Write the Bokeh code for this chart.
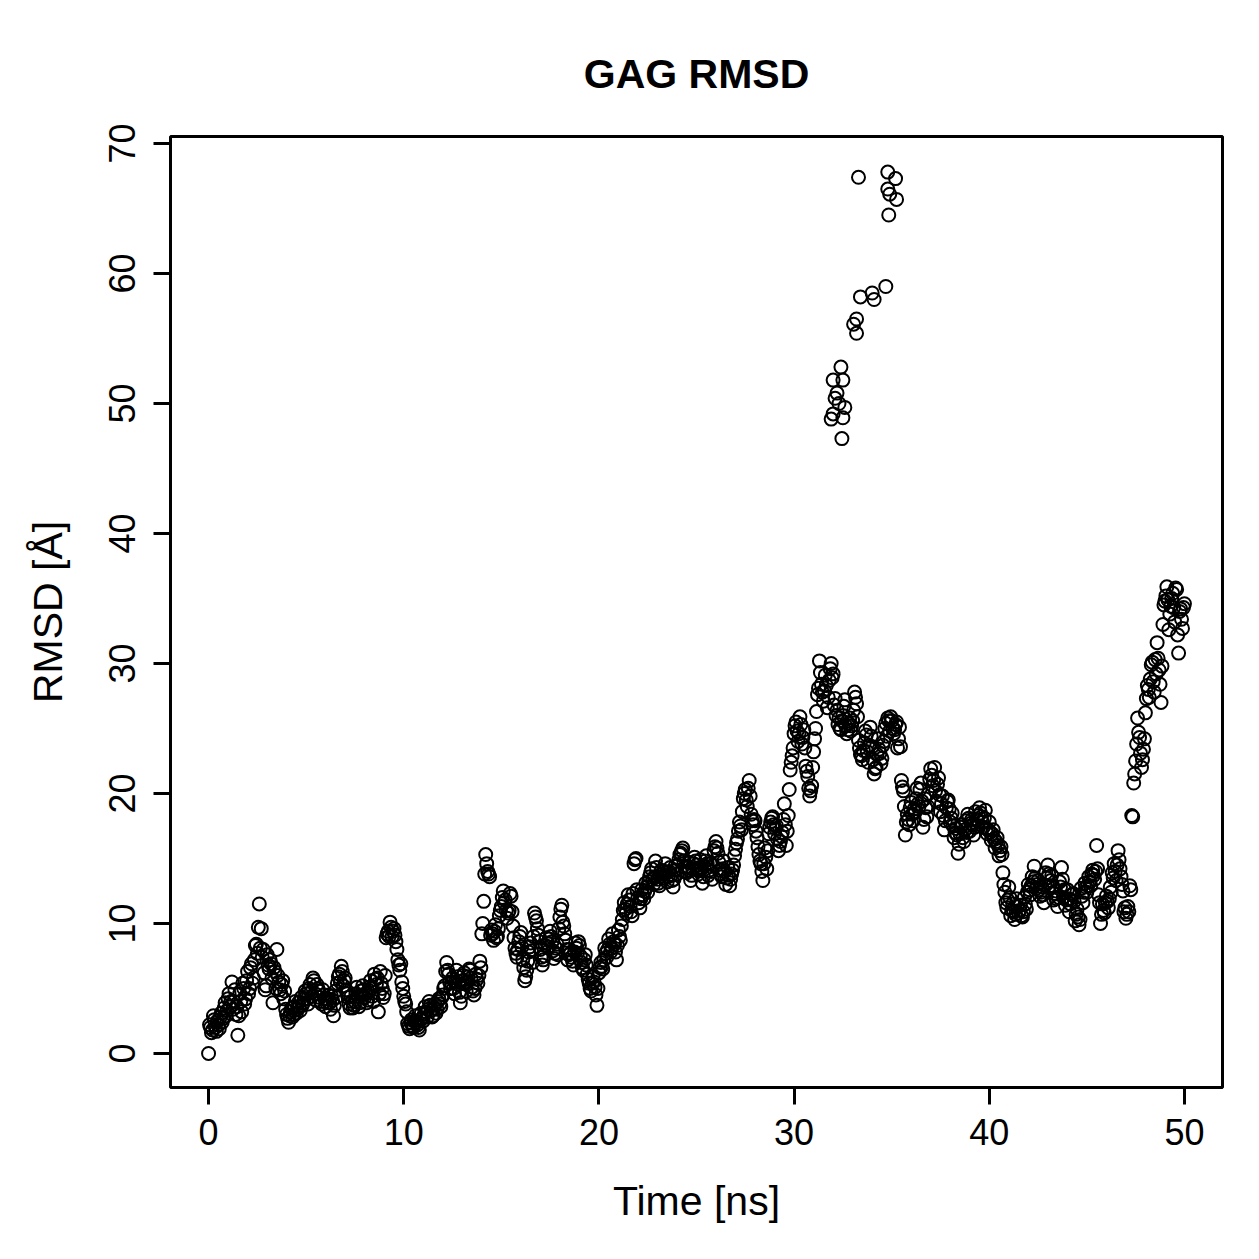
from bokeh.plotting import figure
from bokeh.models import Range1d, FixedTicker
from bokeh.embed import file_html
from bokeh.resources import INLINE

# RMSD trajectory, frames every 0.05 ns
# frames at whole tenths: 0.0, 0.1, ..., 50.0
time_ns = [i / 10 for i in range(501)]
rmsd = [
    # 0.0 - 4.9 ns
    0.0, 2.0, 1.8, 2.6, 1.7, 2.2, 2.8, 2.4, 3.5, 2.9,
    4.2, 3.6, 5.5, 4.0, 3.0, 1.4, 4.6, 3.2, 5.0, 4.2,
    6.3, 5.0, 6.9, 5.8, 8.3, 7.7, 11.5, 9.6, 8.0, 4.9,
    7.6, 6.5, 6.9, 3.9, 6.3, 8.0, 5.5, 4.6, 5.6, 4.8,
    3.0, 2.4, 3.2, 2.8, 3.6, 3.1, 3.9, 3.3, 3.7, 4.2,
    # 5.0 - 9.9 ns
    4.6, 3.8, 5.3, 4.4, 5.6, 4.1, 5.0, 4.3, 3.8, 4.5,
    3.6, 4.2, 3.9, 4.4, 2.9, 4.8, 5.4, 6.1, 6.7, 5.2,
    5.8, 4.6, 3.8, 4.4, 3.5, 4.0, 5.1, 3.6, 4.8, 5.2,
    4.3, 3.9, 4.7, 5.6, 4.4, 6.1, 5.3, 3.2, 6.3, 5.0,
    4.6, 8.9, 9.4, 10.1, 9.0, 9.6, 8.6, 7.2, 6.4, 5.5,
    # 10.0 - 14.9 ns
    4.4, 3.8, 2.3, 1.9, 2.6, 2.0, 2.9, 2.2, 1.8, 3.1,
    2.5, 3.6, 2.8, 4.0, 3.3, 2.9, 3.8, 3.4, 4.2, 3.6,
    4.5, 5.2, 7.0, 6.1, 5.0, 5.8, 4.6, 6.4, 5.3, 3.9,
    5.6, 6.2, 4.8, 5.9, 6.4, 5.1, 4.5, 6.1, 5.4, 7.1,
    9.2, 11.7, 15.3, 14.0, 13.6, 9.5, 8.7, 9.9, 9.0, 10.6,
    # 15.0 - 19.9 ns
    11.3, 12.5, 11.8, 10.4, 11.0, 12.1, 9.8, 8.1, 7.4, 8.6,
    9.3, 7.2, 5.6, 6.4, 7.8, 8.5, 7.0, 10.8, 10.2, 9.1,
    8.0, 6.8, 7.5, 8.9, 8.2, 9.4, 8.6, 7.3, 8.1, 7.6,
    10.5, 11.4, 9.8, 8.7, 7.2, 8.0, 7.4, 6.8, 8.5, 7.7,
    8.3, 7.0, 6.4, 7.6, 6.1, 5.4, 4.8, 5.9, 5.1, 3.7,
    # 20.0 - 24.9 ns
    6.2, 7.0, 6.5, 8.1, 7.4, 8.8, 7.8, 9.2, 8.4, 7.2,
    9.5, 8.7, 10.3, 11.6, 10.8, 12.2, 11.3, 10.6, 14.6, 15.0,
    12.0, 11.2, 12.6, 11.9, 13.1, 12.4, 13.6, 14.2, 13.0, 14.8,
    13.4, 12.9, 14.1, 13.5, 14.6, 13.2, 14.0, 13.7, 12.8, 14.4,
    13.8, 14.9, 15.4, 15.8, 14.3, 13.9, 14.7, 13.3, 14.2, 15.1,
    # 25.0 - 29.9 ns
    14.5, 13.8, 14.9, 13.1, 14.4, 15.2, 13.7, 14.6, 13.4, 15.6,
    16.3, 15.4, 14.1, 13.6, 14.8, 13.0, 14.3, 12.9, 13.8, 14.5,
    15.7, 16.5, 17.8, 17.2, 19.6, 20.3, 19.0, 21.0, 18.4, 17.6,
    17.9, 16.6, 15.3, 14.6, 13.3, 15.8, 14.2, 16.9, 17.8, 18.2,
    16.9, 17.5, 15.6, 16.3, 17.0, 19.2, 16.0, 18.3, 21.8, 22.9,
    # 30.0 - 34.9 ns
    24.6, 25.5, 24.0, 25.9, 23.8, 24.9, 22.1, 21.3, 19.8, 20.6,
    23.2, 25.0, 27.6, 30.2, 28.4, 27.1, 29.1, 26.6, 28.7, 30.0,
    29.2, 27.3, 26.4, 25.8, 24.9, 26.0, 27.2, 24.6, 25.4, 24.8,
    25.6, 27.8, 26.9, 24.1, 23.0, 22.6, 23.9, 24.5, 22.4, 25.1,
    23.6, 21.5, 22.0, 24.2, 23.1, 22.7, 24.0, 25.4, 25.8, 24.8,
    # 35.0 - 39.9 ns
    25.6, 24.6, 25.3, 23.5, 25.1, 21.0, 20.2, 16.8, 18.4, 17.6,
    19.3, 17.9, 18.6, 20.4, 19.0, 20.8, 17.4, 19.6, 18.2, 20.0,
    21.9, 20.6, 22.0, 19.4, 21.2, 18.6, 19.8, 17.2, 18.9, 19.5,
    17.8, 18.5, 16.6, 17.3, 15.4, 16.9, 17.6, 16.3, 17.9, 18.4,
    17.1, 18.0, 16.8, 18.6, 17.5, 18.9, 18.2, 17.4, 18.7, 16.9,
    # 40.0 - 44.9 ns
    17.8, 16.4, 17.2, 15.8, 16.6, 15.2, 15.9, 13.9, 12.4, 11.2,
    12.8, 10.6, 11.5, 10.3, 11.9, 10.8, 11.4, 10.5, 12.0, 11.1,
    13.0, 12.2, 13.6, 14.4, 12.7, 13.3, 12.1, 12.8, 11.6, 13.9,
    14.5, 12.9, 13.7, 11.8, 12.5, 11.3, 13.2, 14.3, 12.0, 11.4,
    12.6, 10.9, 11.8, 12.3, 10.2, 11.1, 9.9, 12.7, 11.6, 13.1,
    # 45.0 - 50.0 ns
    12.4, 13.6, 12.9, 14.1, 13.4, 16.0, 12.2, 10.0, 11.5, 10.8,
    12.1, 11.2, 12.8, 13.9, 14.6, 13.3, 15.6, 14.2, 13.0, 10.9,
    10.4, 11.3, 12.9, 18.3, 20.8, 22.5, 25.8, 24.3, 22.0, 23.4,
    26.2, 28.3, 27.4, 29.9, 28.6, 30.3, 31.6, 29.5, 27.0, 33.0,
    34.8, 35.9, 32.6, 34.4, 35.4, 33.2, 35.7, 30.8, 34.2, 32.7,
    34.6,
]

# frames half-way between the tenths: 0.05, 0.15, ..., 49.95
time_half_ns = [0.05 + i / 10 for i in range(500)]
rmsd_half = [
    # 0.05 - 4.95
    2.2, 1.6, 2.9, 2.0, 2.5, 1.9, 3.1, 2.7, 3.9, 3.3,
    4.6, 4.0, 3.4, 4.9, 3.6, 2.9, 4.0, 5.4, 3.8, 5.6,
    4.6, 6.6, 5.4, 7.2, 8.4, 9.7, 8.1, 7.4, 6.2, 5.2,
    6.8, 7.2, 5.8, 6.6, 5.0, 6.0, 4.9, 5.3, 4.2, 3.4,
    2.7, 2.9, 3.5, 3.0, 4.0, 3.4, 3.6, 4.3, 3.9, 4.8,
    # 5.05 - 9.95
    4.2, 5.0, 4.7, 5.8, 4.6, 5.3, 4.8, 4.0, 4.9, 4.2,
    3.9, 4.5, 3.4, 4.1, 3.7, 4.3, 5.9, 5.5, 6.3, 5.6,
    4.9, 4.3, 3.5, 4.0, 3.7, 4.6, 4.4, 3.9, 4.5, 4.9,
    4.6, 4.1, 5.1, 5.0, 4.0, 5.7, 5.8, 4.6, 5.4, 4.3,
    6.0, 9.2, 9.0, 9.7, 9.4, 9.1, 8.0, 6.8, 6.9, 5.0,
    # 10.05 - 14.95
    4.0, 3.2, 2.1, 2.4, 2.1, 2.5, 2.4, 2.0, 2.6, 2.7,
    3.0, 3.2, 3.4, 3.7, 2.8, 3.5, 3.1, 4.0, 3.8, 4.3,
    5.0, 6.3, 6.4, 5.5, 5.4, 5.0, 5.5, 5.9, 4.7, 4.4,
    6.0, 5.4, 5.5, 6.5, 5.8, 4.8, 5.0, 5.7, 6.0, 6.6,
    10.0, 13.8, 14.6, 13.8, 9.1, 9.2, 9.4, 8.9, 9.6, 11.0,
    # 15.05 - 19.95
    12.0, 11.6, 11.0, 10.8, 12.3, 10.9, 8.9, 7.7, 8.0, 9.0,
    8.2, 6.6, 5.9, 7.1, 8.2, 7.9, 9.0, 10.5, 9.6, 8.6,
    7.4, 7.2, 8.3, 8.5, 8.8, 9.0, 7.9, 7.7, 8.4, 9.6,
    11.1, 10.1, 9.2, 8.0, 7.6, 7.7, 7.1, 7.8, 8.1, 8.6,
    7.5, 6.6, 7.2, 6.8, 5.7, 5.0, 5.4, 5.5, 4.5, 5.0,
    # 20.05 - 24.95
    6.6, 6.7, 7.2, 7.7, 8.0, 8.4, 8.1, 8.6, 7.8, 8.3,
    9.0, 9.8, 11.0, 11.1, 11.5, 11.8, 10.9, 12.3, 14.9, 12.6,
    11.6, 11.9, 12.2, 12.5, 12.8, 13.2, 13.9, 13.4, 13.6, 14.3,
    13.1, 13.6, 13.8, 14.0, 13.9, 13.6, 14.3, 13.3, 13.4, 14.1,
    14.5, 15.3, 15.6, 14.8, 14.0, 14.4, 14.1, 13.7, 14.6, 14.8,
    # 25.05 - 29.95
    14.1, 14.3, 14.2, 13.6, 14.8, 14.6, 14.1, 14.0, 14.5, 15.9,
    15.8, 14.7, 13.8, 14.2, 14.0, 13.5, 13.7, 13.4, 14.1, 15.2,
    16.2, 17.1, 17.5, 18.6, 20.0, 19.5, 20.4, 19.8, 17.9, 18.0,
    17.1, 15.9, 14.8, 14.0, 14.6, 15.1, 15.6, 17.4, 18.1, 17.6,
    17.3, 16.5, 16.0, 16.7, 18.0, 17.6, 17.1, 20.3, 22.4, 23.5,
    # 30.05 - 34.95
    25.2, 24.8, 24.6, 25.3, 24.3, 23.5, 21.7, 20.4, 20.2, 22.0,
    24.2, 26.3, 28.1, 29.3, 27.8, 27.9, 28.3, 27.4, 29.6, 28.9,
    26.8, 26.0, 25.3, 25.0, 25.6, 26.7, 25.2, 24.9, 25.8, 25.2,
    26.4, 27.4, 25.9, 23.5, 22.9, 23.3, 24.8, 23.2, 23.7, 24.4,
    22.6, 21.9, 23.0, 23.4, 22.3, 23.7, 25.0, 24.4, 25.6, 25.9,
    # 35.05 - 39.95
    25.0, 24.9, 25.5, 24.2, 23.6, 20.5, 19.0, 17.8, 18.0, 18.9,
    18.4, 18.8, 19.6, 19.2, 20.3, 19.4, 18.0, 18.9, 19.0, 21.1,
    21.4, 21.0, 20.2, 20.7, 19.9, 19.2, 18.3, 17.9, 19.4, 18.8,
    18.1, 17.5, 17.0, 16.8, 16.1, 17.4, 16.6, 17.2, 17.0, 18.1,
    17.7, 17.6, 17.4, 18.0, 18.3, 18.5, 17.8, 18.1, 17.3, 17.2,
    # 40.05 - 44.95
    17.0, 16.9, 16.5, 16.3, 16.0, 15.6, 15.3, 13.0, 11.6, 11.8,
    12.0, 11.0, 10.9, 10.7, 11.3, 11.0, 10.6, 10.9, 11.5, 12.4,
    12.6, 12.9, 13.2, 13.5, 13.0, 12.6, 12.4, 12.2, 12.9, 13.5,
    13.8, 13.3, 12.9, 12.3, 11.9, 12.0, 12.8, 13.4, 12.6, 11.8,
    11.9, 11.5, 12.2, 11.7, 10.7, 10.5, 10.3, 12.1, 12.4, 12.8,
    # 45.05 - 49.95
    12.9, 13.2, 13.8, 13.7, 14.0, 14.2, 11.6, 10.7, 11.0, 11.6,
    11.7, 11.9, 12.4, 13.5, 14.0, 14.5, 14.9, 13.6, 12.5, 11.2,
    10.7, 10.9, 12.6, 18.2, 21.5, 23.8, 24.7, 23.1, 22.6, 24.2,
    27.3, 28.0, 28.8, 30.1, 27.8, 29.2, 30.4, 28.4, 29.8, 34.5,
    35.2, 34.9, 33.8, 35.0, 34.3, 35.8, 32.2, 34.0, 33.4, 34.3,
]

# frames with very high RMSD around 32-35 ns
jump_time = [31.9, 32.0, 32.0, 32.1, 32.2, 32.3, 32.4, 32.45, 32.5, 32.5, 32.6,
             33.05, 33.2, 33.2, 33.3, 33.4, 34.0, 34.1, 34.7, 34.8, 34.8, 34.85,
             34.9, 35.2, 35.25]
jump_rmsd = [48.8, 49.2, 51.8, 50.4, 50.8, 50.0, 52.8, 47.3, 51.8, 48.9, 49.7,
             56.1, 55.4, 56.5, 67.4, 58.2, 58.5, 58.0, 59.0, 67.8, 66.5, 64.5,
             66.1, 67.3, 65.7]

x_ticks = [0, 10, 20, 30, 40, 50]
y_ticks = [0, 10, 20, 30, 40, 50, 60, 70]

FONT = "Liberation Sans"

n_half = min(len(time_half_ns), len(rmsd_half))
all_t = time_ns[:len(rmsd)] + time_half_ns[:n_half] + jump_time
all_y = rmsd + rmsd_half[:n_half] + jump_rmsd

p = figure(width=1259, height=1259, output_backend="svg", toolbar_location=None,
           x_range=Range1d(-1.95, 51.95), y_range=Range1d(-2.62, 70.54),
           min_border_left=170, min_border_right=37,
           min_border_top=136, min_border_bottom=172)

p.background_fill_color = "white"
p.border_fill_color = "white"
p.outline_line_color = "black"
p.outline_line_width = 3
p.xgrid.visible = False
p.ygrid.visible = False

p.scatter(all_t, all_y, marker="circle", size=13,
          fill_color=None, line_color="black", line_width=2)

for ax, ticks in ((p.xaxis, x_ticks), (p.yaxis, y_ticks)):
    ax.ticker = FixedTicker(ticks=ticks)
    ax.axis_line_color = None
    ax.major_tick_out = 17
    ax.major_tick_in = 0
    ax.major_tick_line_width = 3
    ax.major_tick_line_color = "black"
    ax.minor_tick_line_color = None
    ax.major_label_text_font = FONT
    ax.major_label_text_font_size = "36px"
    ax.major_label_text_color = "black"
    ax.axis_label_text_font = FONT
    ax.axis_label_text_font_size = "41px"
    ax.axis_label_text_font_style = "normal"
    ax.axis_label_text_color = "black"

p.xaxis.axis_label = "Time [ns]"
p.xaxis.major_label_standoff = 14
p.xaxis.axis_label_standoff = 30
p.yaxis.axis_label = "RMSD [Å]"
p.yaxis.major_label_orientation = "vertical"
p.yaxis.major_label_standoff = 18
p.yaxis.axis_label_standoff = 36

p.title.text = "GAG RMSD"
p.title.align = "center"
p.title.text_font = FONT
p.title.text_font_size = "41px"
p.title.text_font_style = "bold"
p.title.text_color = "black"
p.title.standoff = 80

open("out.html", "w").write(file_html(p, INLINE))
